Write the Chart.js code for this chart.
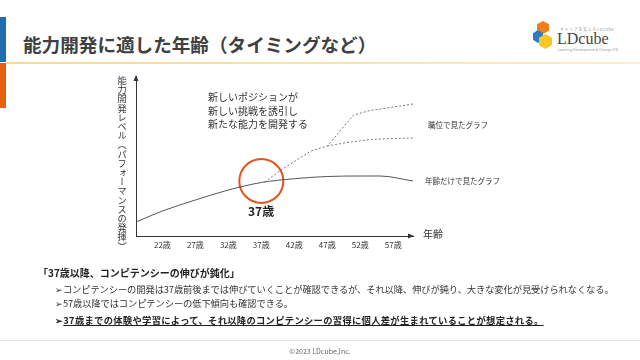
<!DOCTYPE html>
<html><head><meta charset="utf-8">
<script src="https://cdn.jsdelivr.net/npm/chart.js@4"></script>
<style>
html,body{margin:0;padding:0;background:#fff;}
#wrap{position:relative;width:640px;height:360px;overflow:hidden;font-family:"Noto Sans CJK JP","Noto Sans",sans-serif;color:#333;}
canvas{position:absolute;left:0;top:0;}
.t{position:absolute;white-space:nowrap;line-height:1;}
.bar{position:absolute;left:0;width:6px;}
</style></head><body>
<div id="wrap">
<div class="bar" style="top:17px;height:45px;background:#1f6db3;"></div>
<div class="bar" style="top:63px;height:45px;background:#e8610f;"></div>
<div style="position:absolute;left:6px;top:62px;width:634px;height:2px;background:linear-gradient(90deg,#f6dc86,#f9e7a8 60%,#fbf0c8);"></div>
<div class="t" style="left:23px;top:35px;font-size:18.6px;font-weight:bold;color:#404040;">能力開発に適した年齢（タイミングなど）</div>
<!-- logo -->
<div style="position:absolute;left:533px;top:21px;width:20px;height:30px;">
  <div style="position:absolute;left:4px;top:0;width:12px;height:13px;background:#ef7d1a;clip-path:polygon(50% 0,100% 25%,100% 75%,50% 100%,0 75%,0 25%);"></div>
  <div style="position:absolute;left:0;top:9px;width:10px;height:13px;background:#2f7cc6;clip-path:polygon(50% 0,100% 25%,100% 75%,50% 100%,0 75%,0 25%);"></div>
  <div style="position:absolute;left:6px;top:13px;width:13px;height:15px;background:#f7c81e;clip-path:polygon(50% 0,100% 25%,100% 75%,50% 100%,0 75%,0 25%);"></div>
</div>
<div class="t" style="left:560px;top:27px;font-size:4px;color:#999;letter-spacing:0.6px;">キャリアを支えるLDcube</div>
<div class="t" style="left:557px;top:31px;font-size:16px;font-family:'Liberation Serif','DejaVu Serif',serif;color:#444;">LDcube</div>
<div class="t" style="left:558px;top:48px;font-size:3.5px;color:#999;">Learning Development &amp; Change LTD.</div>

<canvas id="c" width="640" height="360"></canvas>

<div class="t" style="left:117px;top:76px;font-size:9.2px;writing-mode:vertical-rl;color:#333;">能力開発レベル（パフォーマンスの発揮）</div>
<div class="t" style="left:208px;top:90px;font-size:10px;line-height:13.5px;color:#333;">新しいポジションが<br>新しい挑戦を誘引し<br>新たな能力を開発する</div>
<div class="t" style="left:428px;top:121px;font-size:7.5px;color:#333;">職位で見たグラフ</div>
<div class="t" style="left:425px;top:177px;font-size:7.5px;color:#333;">年齢だけで見たグラフ</div>
<div class="t" style="left:423px;top:229px;font-size:10px;color:#333;">年齢</div>
<div class="t" style="left:248px;top:205px;font-size:12px;font-weight:bold;color:#222;">37歳</div>

<div class="t" style="left:38px;top:268px;font-size:10px;font-weight:bold;color:#222;">「37歳以降、コンピテンシーの伸びが鈍化」</div>
<div class="t" style="left:55px;top:285px;font-size:9.3px;letter-spacing:-0.12px;color:#333;">➢コンピテンシーの開発は37歳前後までは伸びていくことが確認できるが、それ以降、伸びが鈍り、大きな変化が見受けられなくなる。</div>
<div class="t" style="left:55px;top:299px;font-size:9.3px;letter-spacing:-0.12px;color:#333;">➢57歳以降ではコンピテンシーの低下傾向も確認できる。</div>
<div class="t" style="left:55px;top:316px;font-size:9.3px;font-weight:bold;letter-spacing:0.3px;color:#222;"><span>➢</span><span style="text-decoration:underline;">37歳までの体験や学習によって、それ以降のコンピテンシーの習得に個人差が生まれていることが想定される。</span></div>
<div style="position:absolute;left:0;top:340px;width:640px;height:1px;background:#e2e2e2;"></div>
<div class="t" style="left:0;width:640px;text-align:center;top:348px;font-size:7px;color:#666;">©2023 LDcube,Inc.</div>
</div>
<script>
const tickAges = [22, 27, 32, 37, 42, 47, 52, 57];
const ageOnlyX = [18, 22, 27, 32, 37, 42, 47, 52, 55, 60];
const ageOnlyY = [14, 25, 36, 46, 53.5, 57.3, 59.5, 60, 60, 55];
const positionUpperX = [37.5, 40, 44.5, 47, 51, 53.5, 57, 60];
const positionUpperY = [54, 66, 85, 90, 121, 125.5, 129, 132];
const positionLowerX = [47, 50, 53.5, 57, 60];
const positionLowerY = [90, 93.5, 96.5, 97.5, 98];
const highlightAge = [37];
const highlightLevel = [55];

const pts = (xs, ys) => xs.map((x, i) => ({x: x, y: ys[i]}));

const arrows = {
  id: 'arrows',
  afterDraw(chart) {
    const ctx = chart.ctx, a = chart.chartArea;
    ctx.save();
    ctx.fillStyle = '#333';
    ctx.beginPath();
    ctx.moveTo(a.left, a.top - 1); ctx.lineTo(a.left - 2.5, a.top + 5); ctx.lineTo(a.left + 2.5, a.top + 5); ctx.closePath(); ctx.fill();
    ctx.beginPath();
    ctx.moveTo(a.right + 1, a.bottom); ctx.lineTo(a.right - 5, a.bottom - 2.5); ctx.lineTo(a.right - 5, a.bottom + 2.5); ctx.closePath(); ctx.fill();
    ctx.restore();
  }
};

new Chart(document.getElementById('c'), {
  type: 'line',
  data: {
    datasets: [
      {data: pts(ageOnlyX, ageOnlyY), borderColor: '#555', borderWidth: 1, pointRadius: 0, cubicInterpolationMode: 'monotone'},
      {data: pts(positionUpperX, positionUpperY), borderColor: '#777', borderWidth: 1, borderDash: [2, 2], pointRadius: 0, tension: 0},
      {data: pts(positionLowerX, positionLowerY), borderColor: '#777', borderWidth: 1, borderDash: [2, 2], pointRadius: 0, tension: 0},
      {data: pts(highlightAge, highlightLevel), showLine: false, pointRadius: 22, pointBorderWidth: 2, pointBorderColor: '#e9521f', pointBackgroundColor: 'rgba(0,0,0,0)'}
    ]
  },
  options: {
    responsive: false, animation: false,
    layout: {padding: {left: 136, top: 76, right: 227, bottom: 104}},
    plugins: {legend: {display: false}, tooltip: {enabled: false}},
    scales: {
      x: {
        type: 'linear', min: 18, max: 60,
        afterBuildTicks: s => { s.ticks = tickAges.map(v => ({value: v})); },
        afterFit: s => { s.height = 20; },
        grid: {display: false, drawTicks: false},
        border: {display: true, color: '#333', width: 1},
        ticks: {padding: 4, color: '#333', font: {size: 8, family: '"Noto Sans CJK JP"'}, callback: v => v + '歳', maxRotation: 0, autoSkip: false}
      },
      y: {
        min: 0, max: 160,
        afterFit: s => { s.width = 0; },
        grid: {display: false, drawTicks: false},
        border: {display: true, color: '#333', width: 1},
        ticks: {display: false}
      }
    }
  },
  plugins: [arrows]
});
</script>
</body></html>
